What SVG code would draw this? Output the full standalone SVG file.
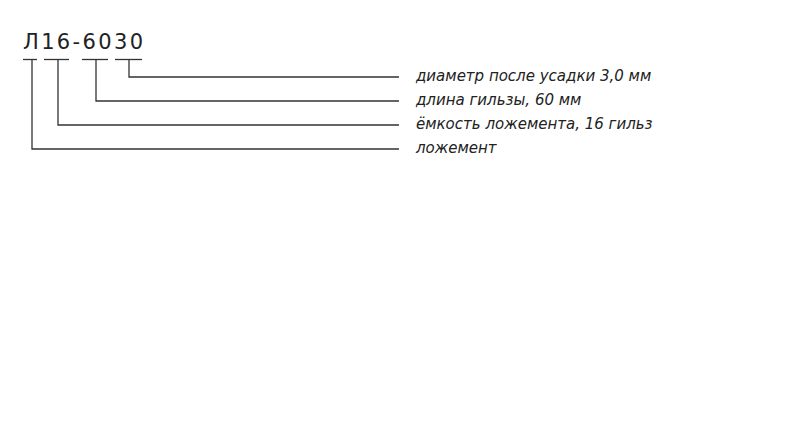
<svg xmlns="http://www.w3.org/2000/svg" width="800" height="421" viewBox="0 0 800 421">
<style>
.ln{fill:none;stroke:#333;stroke-width:1.3}
.lbl{font-family:"DejaVu Sans",Verdana,sans-serif;font-style:italic;font-size:15px;fill:#222}
.ttl{font-family:"DejaVu Sans",Verdana,sans-serif;font-size:21px;fill:#222}
</style>
<rect width="800" height="421" fill="#fff"/>
<g id="title"><text class="ttl" x="23" y="49" textLength="120" lengthAdjust="spacing">Л16-6030</text></g>
<g id="underlines">
<line class="ln" x1="23" y1="59.5" x2="37" y2="59.5"/>
<line class="ln" x1="44" y1="59.5" x2="69" y2="59.5"/>
<line class="ln" x1="82" y1="59.5" x2="108" y2="59.5"/>
<line class="ln" x1="115" y1="59.5" x2="142" y2="59.5"/>
</g>
<g id="connectors">
<polyline class="ln" points="129,59.5 129,77 399,77"/>
<polyline class="ln" points="96,59.5 96,101 399,101"/>
<polyline class="ln" points="58,59.5 58,125 399,125"/>
<polyline class="ln" points="32,59.5 32,149 399,149"/>
</g>
<g id="labels">
<text class="lbl" x="416" y="81">диаметр после усадки 3,0 мм</text>
<text class="lbl" x="416" y="105">длина гильзы, 60 мм</text>
<text class="lbl" x="416" y="129">ёмкость ложемента, 16 гильз</text>
<text class="lbl" x="416" y="153">ложемент</text>
</g>
</svg>
